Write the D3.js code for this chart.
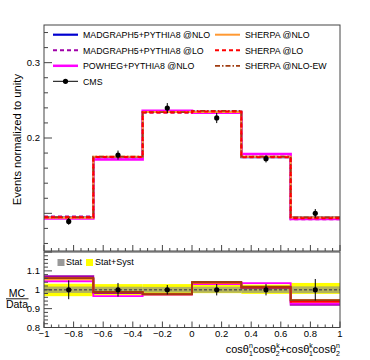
<!DOCTYPE html>
<html>
<head>
<meta charset="utf-8">
<script src="https://cdn.jsdelivr.net/npm/d3@7"></script>
<style>
  body { margin: 0; background: #fff; }
  text { font-family: "Liberation Sans", Arial, sans-serif; fill: #000; }
</style>
</head>
<body>
<svg id="chart" width="370" height="360"></svg>
<script>
// bin edges and centres
const binEdges = [-1, -2/3, -1/3, 0, 1/3, 2/3, 1];
const binCentres = [-0.833, -0.5, -0.167, 0.167, 0.5, 0.833];

// CMS data (normalized) and errors
const dataValues = [0.0893, 0.1773, 0.2398, 0.2266, 0.1725, 0.1000];
const dataErrors = [0.0045, 0.006, 0.0066, 0.0068, 0.005, 0.0057];

// MC predictions, upper panel
const mgNlo = [0.0945, 0.1745, 0.2345, 0.2346, 0.1745, 0.0942];
const mgLo = [0.0957, 0.1741, 0.2338, 0.2343, 0.1751, 0.0920];
const powheg = [0.0933, 0.1713, 0.2362, 0.2334, 0.1786, 0.0926];
const sherpaNlo = [0.0942, 0.1750, 0.2345, 0.2345, 0.1750, 0.0945];
const sherpaLo = [0.0948, 0.1748, 0.2340, 0.2352, 0.1746, 0.0936];
const sherpaEw = [0.0948, 0.1752, 0.2343, 0.2359, 0.1752, 0.0945];

// MC/Data ratios, lower panel
const rMgNlo = [1.058, 0.985, 0.978, 1.036, 1.012, 0.942];
const rMgLo = [1.072, 0.982, 0.975, 1.034, 1.015, 0.920];
const rPowheg = [1.045, 0.966, 0.975, 1.030, 1.035, 0.926];
const rSherpaNlo = [1.055, 0.987, 0.978, 1.035, 1.015, 0.945];
const rSherpaLo = [1.062, 0.986, 0.976, 1.038, 1.012, 0.936];
const rSherpaEw = [1.062, 0.988, 0.977, 1.041, 1.016, 0.945];

// relative errors of the data in the ratio, and the bands
const ratioErrors = [0.05, 0.036, 0.025, 0.03, 0.03, 0.057];
const statUp = [0.017, 0.016, 0.015, 0.016, 0.017, 0.018];
const statDown = [0.017, 0.016, 0.015, 0.016, 0.017, 0.018];
const totUp = [0.032, 0.03, 0.03, 0.028, 0.027, 0.036];
const totDown = [0.034, 0.03, 0.03, 0.018, 0.022, 0.022];

const xTicks = [-1, -0.8, -0.6, -0.4, -0.2, 0, 0.2, 0.4, 0.6, 0.8, 1];
const yTopTicks = [0.1, 0.2, 0.3];
const yTopLabels = ["", "0.2", "0.3"];
const yBotTicks = [0.8, 0.9, 1, 1.1];
const yBotLabels = ["0.8", "0.9", "1", "1.1"];

const series = [
  {name: "MADGRAPH5+PYTHIA8 @NLO", up: mgNlo, ratio: rMgNlo, color: "#0000d0", width: 2.2, dash: null},
  {name: "MADGRAPH5+PYTHIA8 @LO", up: mgLo, ratio: rMgLo, color: "#a000a8", width: 2, dash: "4,3"},
  {name: "POWHEG+PYTHIA8 @NLO", up: powheg, ratio: rPowheg, color: "#ff00ff", width: 2.5, dash: null},
  {name: "SHERPA @NLO", up: sherpaNlo, ratio: rSherpaNlo, color: "#ff9933", width: 2, dash: null},
  {name: "SHERPA @LO", up: sherpaLo, ratio: rSherpaLo, color: "#ff0000", width: 2, dash: "4,3"},
  {name: "SHERPA @NLO-EW", up: sherpaEw, ratio: rSherpaEw, color: "#a03c10", width: 1.8, dash: "5,2,1.5,2"}
];
// Zeichenreihenfolge: SHERPA @LO zuletzt (liegt oben)
const drawOrder = [0, 1, 2, 3, 5, 4];

const svg = d3.select("#chart");

const x = d3.scaleLinear().domain([-1, 1]).range([44, 340]);
const yTop = d3.scaleLinear().domain([0.05, 0.35]).range([251, 25]);
const yBot = d3.scaleLinear().domain([0.8, 1.2]).range([327.5, 252]);

// Histogramm als Stufenlinie
function stepPath(values, y) {
  const pts = values.map((v, i) => [binEdges[i], v]);
  pts.push([binEdges[binEdges.length - 1], values[values.length - 1]]);
  return d3.line().x(d => x(d[0])).y(d => y(d[1])).curve(d3.curveStepAfter)(pts);
}

// x-Ticks (nach oben zeigend)
function xTickMarks(g, yBase, majorLen, minorLen) {
  d3.range(-1, 1.0001, 0.05).forEach(t => {
    const major = Math.abs(t * 5 - Math.round(t * 5)) < 1e-6;
    g.append("line")
      .attr("x1", x(t)).attr("x2", x(t))
      .attr("y1", yBase).attr("y2", yBase - (major ? majorLen : minorLen))
      .attr("stroke", "#444");
  });
}

// ---------- upper panel ----------
const upper = svg.append("g");

drawOrder.forEach(k => {
  const s = series[k];
  upper.append("path")
    .attr("d", stepPath(s.up, yTop))
    .attr("fill", "none")
    .attr("stroke", s.color)
    .attr("stroke-width", s.width)
    .attr("stroke-dasharray", s.dash);
});

// data points
dataValues.forEach((v, i) => {
  upper.append("line")
    .attr("x1", x(binCentres[i])).attr("x2", x(binCentres[i]))
    .attr("y1", yTop(v - dataErrors[i])).attr("y2", yTop(v + dataErrors[i]))
    .attr("stroke", "#000").attr("stroke-width", 1);
  upper.append("circle")
    .attr("cx", x(binCentres[i])).attr("cy", yTop(v)).attr("r", 2.6)
    .attr("fill", "#000");
});

// frame
upper.append("rect")
  .attr("x", 44).attr("y", 25).attr("width", 296).attr("height", 226)
  .attr("fill", "none").attr("stroke", "#444").attr("stroke-width", 1);

// y axis upper
d3.range(0.06, 0.35, 0.02).forEach(t => {
  const major = Math.abs(t * 10 - Math.round(t * 10)) < 1e-6;
  upper.append("line")
    .attr("x1", 44).attr("x2", 44 + (major ? 8 : 4))
    .attr("y1", yTop(t)).attr("y2", yTop(t))
    .attr("stroke", "#444");
});
yTopTicks.forEach((t, i) => {
  if (yTopLabels[i] === "") return;
  upper.append("text")
    .attr("x", 40).attr("y", yTop(t) + 3.3)
    .attr("text-anchor", "end").attr("font-size", "9.5px")
    .text(yTopLabels[i]);
});

xTickMarks(upper, 251, 6, 3);

// y title
svg.append("text")
  .attr("transform", "translate(20.5,74) rotate(-90)")
  .attr("text-anchor", "end").attr("font-size", "11.2px")
  .text("Events normalized to unity");

// legend
const legendRows = [34.7, 50.3, 65.8, 81.3];
const legendCols = [
  [series[0], series[1], series[2], "cms"],
  [series[3], series[4], series[5]]
];
const colX = [53, 215];
legendCols.forEach((col, ci) => {
  col.forEach((s, ri) => {
    const g = upper.append("g");
    const yy = legendRows[ri];
    if (s === "cms") {
      g.append("line").attr("x1", colX[ci]).attr("x2", colX[ci] + 25)
        .attr("y1", yy).attr("y2", yy).attr("stroke", "#000").attr("stroke-width", 1);
      g.append("circle").attr("cx", colX[ci] + 12.5).attr("cy", yy).attr("r", 2.6).attr("fill", "#000");
      g.append("text").attr("x", colX[ci] + 30).attr("y", yy + 3.2)
        .attr("font-size", "8.8px").text("CMS");
    } else {
      g.append("line").attr("x1", colX[ci]).attr("x2", colX[ci] + 25)
        .attr("y1", yy).attr("y2", yy)
        .attr("stroke", s.color).attr("stroke-width", s.width)
        .attr("stroke-dasharray", s.dash);
      g.append("text").attr("x", colX[ci] + 30).attr("y", yy + 3.2)
        .attr("font-size", "8.8px").text(s.name);
    }
  });
});

// ---------- lower panel ----------
const lower = svg.append("g");

// stat+syst band (yellow)
binCentres.forEach((c, i) => {
  lower.append("rect")
    .attr("x", x(binEdges[i])).attr("width", x(binEdges[i + 1]) - x(binEdges[i]))
    .attr("y", yBot(1 + totUp[i])).attr("height", yBot(1 - totDown[i]) - yBot(1 + totUp[i]))
    .attr("fill", "#ffff00");
});
// stat band (gray)
binCentres.forEach((c, i) => {
  lower.append("rect")
    .attr("x", x(binEdges[i])).attr("width", x(binEdges[i + 1]) - x(binEdges[i]))
    .attr("y", yBot(1 + statUp[i])).attr("height", yBot(1 - statDown[i]) - yBot(1 + statUp[i]))
    .attr("fill", "#8c8c8c").attr("fill-opacity", 0.65);
});

// dashed unity line
lower.append("line")
  .attr("x1", x(-1)).attr("x2", x(1))
  .attr("y1", yBot(1)).attr("y2", yBot(1))
  .attr("stroke", "#555").attr("stroke-width", 1.5).attr("stroke-dasharray", "3,2");

// ratio lines
series.forEach(s => {
  lower.append("path")
    .attr("d", stepPath(s.ratio, yBot))
    .attr("fill", "none")
    .attr("stroke", s.color)
    .attr("stroke-width", 1.8);
});

// data at 1
ratioErrors.forEach((e, i) => {
  lower.append("line")
    .attr("x1", x(binCentres[i])).attr("x2", x(binCentres[i]))
    .attr("y1", yBot(1 - e)).attr("y2", yBot(1 + e))
    .attr("stroke", "#000").attr("stroke-width", 1);
  lower.append("circle")
    .attr("cx", x(binCentres[i])).attr("cy", yBot(1)).attr("r", 2.6)
    .attr("fill", "#000");
});

// frame
lower.append("rect")
  .attr("x", 44).attr("y", 252).attr("width", 296).attr("height", 75.5)
  .attr("fill", "none").attr("stroke", "#444").attr("stroke-width", 1);

// y ticks lower
d3.range(0.8, 1.2001, 0.02).forEach(t => {
  const major = Math.abs(t * 10 - Math.round(t * 10)) < 1e-6;
  lower.append("line")
    .attr("x1", 44).attr("x2", 44 + (major ? 8 : 4))
    .attr("y1", yBot(t)).attr("y2", yBot(t))
    .attr("stroke", "#444");
});
yBotTicks.forEach((t, i) => {
  lower.append("text")
    .attr("x", 40).attr("y", yBot(t) + 3.3)
    .attr("text-anchor", "end").attr("font-size", "9.5px")
    .text(yBotLabels[i]);
});

xTickMarks(lower, 327.5, 6, 3);

// x tick labels
xTicks.forEach(t => {
  lower.append("text")
    .attr("x", x(t)).attr("y", 337)
    .attr("text-anchor", "middle").attr("font-size", "9.5px")
    .text(String(t).replace("-", "\u2212"));
});

// Stat legend
lower.append("rect").attr("x", 57.5).attr("y", 259).attr("width", 7).attr("height", 7).attr("fill", "#999");
lower.append("text").attr("x", 66).attr("y", 265.3).attr("font-size", "9px").text("Stat");
lower.append("rect").attr("x", 86).attr("y", 259).attr("width", 7).attr("height", 7).attr("fill", "#ffff00");
lower.append("text").attr("x", 95).attr("y", 265.3).attr("font-size", "9px").text("Stat+Syst");

// MC/Data title
svg.append("text").attr("x", 17).attr("y", 297).attr("text-anchor", "middle")
  .attr("font-size", "10.5px").text("MC");
svg.append("line").attr("x1", 6).attr("x2", 28.5).attr("y1", 298.8).attr("y2", 298.8)
  .attr("stroke", "#000").attr("stroke-width", 0.9);
svg.append("text").attr("x", 17).attr("y", 308).attr("text-anchor", "middle")
  .attr("font-size", "10.5px").text("Data");

// x title: cos theta mit Hoch- und Tiefstellung
const xt = svg.append("text").attr("x", 340).attr("y", 352.5).attr("text-anchor", "end")
  .attr("font-size", "11px");
const parts = [["cos\u03b8", "1", "n"], ["cos\u03b8", "2", "k"], ["+cos\u03b8", "1", "k"], ["cos\u03b8", "2", "n"]];
let shift = 0;
parts.forEach(p => {
  xt.append("tspan").attr("dy", -shift).text(p[0]);
  xt.append("tspan").attr("font-size", "7px").attr("dy", -4.8).text(p[2]);
  xt.append("tspan").attr("font-size", "7px").attr("dx", -3.9).attr("dy", 8.3).text(p[1]);
  shift = 3.5;
});
</script>
</body>
</html>
